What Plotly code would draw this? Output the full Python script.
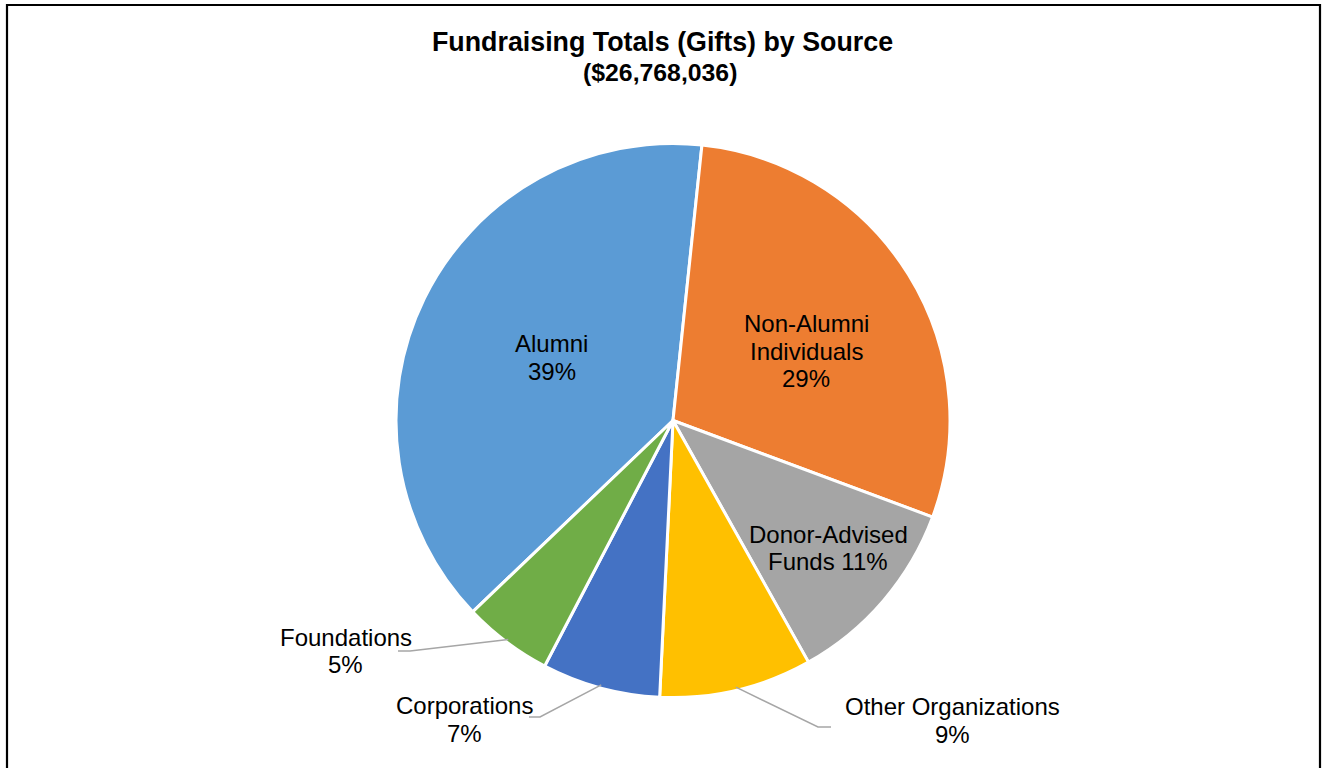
import math
import plotly.graph_objects as go

# ---------------- data ----------------
title_line1 = "Fundraising Totals (Gifts) by Source"
title_line2 = "($26,768,036)"

sources = ["Alumni", "Non-Alumni Individuals", "Donor-Advised Funds",
           "Other Organizations", "Corporations", "Foundations"]
gifts = [10385993, 7762730, 2998020, 2382355, 1847000, 1391938]
colors = ["#5B9BD5", "#ED7D31", "#A5A5A5", "#FFC000", "#4472C4", "#70AD47"]
# label text lines ({p} = percentage)
label_lines = [["Alumni", "{p}"],
               ["Non-Alumni", "Individuals", "{p}"],
               ["Donor-Advised", "Funds {p}"],
               ["Other Organizations", "{p}"],
               ["Corporations", "{p}"],
               ["Foundations", "{p}"]]

# ---------------- layout constants ----------------
W, H = 1325, 768
CX, CY, R = 673.0, 420.5, 277.0          # pie centre / radius in px
BOUNDARY_ANGLE = 6.0                      # clockwise angle (deg) where Non-Alumni starts
FONT = "Liberation Sans, Arial, sans-serif"
LABEL_SIZE = 24
LINE_GAP = 27.5

# inside labels: (angle offset from mid-angle in deg, radial factor)
inside_place = {0: (1.3, 0.493), 1: (4.3, 0.543), 2: (-1.2, 0.7245)}
# outside labels: (centre x, first-line y, leader end, leader elbow)
outside_layout = {
    3: (952, 706.5, (831, 727), (818, 727)),
    4: (464.6, 705.5, (529, 717), (540, 717)),
    5: (345.5, 637.0, (398, 651), (410, 651)),
}


def px(x):
    return x / W


def py(y):
    return 1 - y / H


total = sum(gifts)
fracs = [g / total for g in gifts]
rotation = BOUNDARY_ANGLE - 360 * fracs[0]

fig = go.Figure(go.Pie(
    labels=sources,
    values=gifts,
    sort=False,
    direction="clockwise",
    rotation=rotation,
    marker=dict(colors=colors, line=dict(color="white", width=3)),
    textinfo="none",
    hoverinfo="label+value+percent",
    domain=dict(x=[px(CX - R), px(CX + R)], y=[py(CY + R), py(CY - R)]),
))

annotations = []
shapes = []

start = rotation
for i, f in enumerate(fracs):
    span = 360 * f
    mid_deg = start + span / 2
    start += span
    mid = math.radians(mid_deg)
    dx, dy = math.sin(mid), -math.cos(mid)
    pct = f"{round(f * 100)}%"
    lines = [s.replace("{p}", pct) for s in label_lines[i]]
    if i in inside_place:
        off, k = inside_place[i]
        a = math.radians(mid_deg + off)
        bx, by = CX + k * R * math.sin(a), CY - k * R * math.cos(a)
        y0 = by - (len(lines) - 1) * LINE_GAP / 2
    else:
        bx, y0, end, elbow = outside_layout[i]
        ex, ey = CX + (R - 3) * dx, CY + (R - 3) * dy
        path = f"M {px(ex)} {py(ey)} L {px(elbow[0])} {py(elbow[1])} L {px(end[0])} {py(end[1])}"
        shapes.append(dict(type="path", xref="paper", yref="paper", path=path,
                           line=dict(color="#A6A6A6", width=1.5)))
    for j, s in enumerate(lines):
        annotations.append(dict(
            text=s, x=px(bx), y=py(y0 + j * LINE_GAP), xref="paper", yref="paper",
            xanchor="center", yanchor="middle", showarrow=False,
            font=dict(family=FONT, size=LABEL_SIZE, color="black")))

# title (two lines)
annotations.append(dict(text=f"<b>{title_line1}</b>", x=px(662.5), y=py(41.5),
                        xref="paper", yref="paper", xanchor="center", yanchor="middle",
                        showarrow=False, font=dict(family=FONT, size=26.8, color="black")))
annotations.append(dict(text=f"<b>{title_line2}</b>", x=px(660), y=py(72.5),
                        xref="paper", yref="paper", xanchor="center", yanchor="middle",
                        showarrow=False, font=dict(family=FONT, size=24.8, color="black")))

# chart border (left, top, right)
for path in [f"M {px(7)} {py(800)} L {px(7)} {py(5)} L {px(1320)} {py(5)} L {px(1320)} {py(800)}"]:
    shapes.append(dict(type="path", xref="paper", yref="paper", path=path,
                       line=dict(color="black", width=2.2)))

fig.update_layout(
    width=W, height=H, autosize=False,
    margin=dict(l=0, r=0, t=0, b=0),
    paper_bgcolor="white", plot_bgcolor="white",
    showlegend=False,
    annotations=annotations, shapes=shapes,
    font=dict(family=FONT),
)

fig.write_html("out.html", include_plotlyjs=True,
               config={"displayModeBar": False},
               post_script="document.body.style.margin='0';document.body.style.overflow='hidden';")
